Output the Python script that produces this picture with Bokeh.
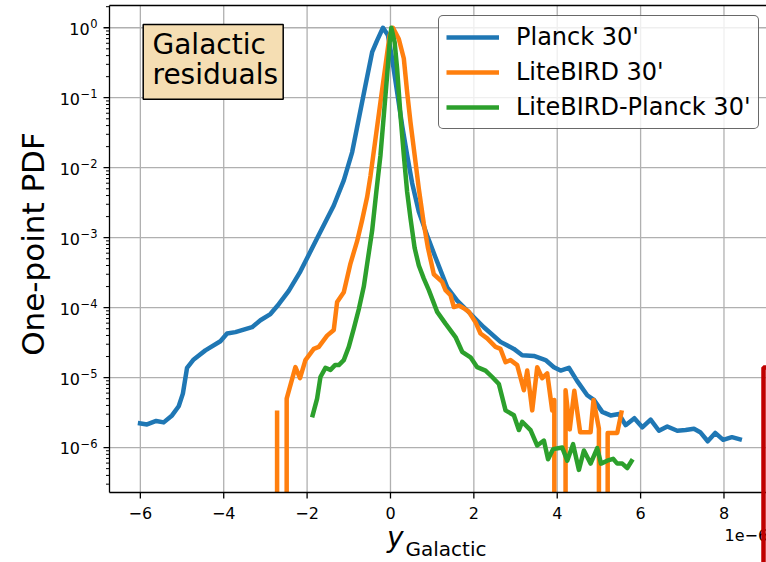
import numpy as np
from bokeh.plotting import figure
from bokeh.models import Range1d, BoxAnnotation, Legend
from bokeh.core.properties import value
from bokeh.embed import file_html
from bokeh.resources import INLINE

# One-point PDF of the Galactic residual y-maps (x values in units of 1e-6)
planck_x = [-6.06, -5.84, -5.62, -5.44, -5.24, -5.08, -4.98, -4.88, -4.72, -4.44,
            -4.08, -3.92, -3.72, -3.32, -3.12, -2.88, -2.68, -2.44, -2.16, -1.76,
            -1.36, -1.12, -0.92, -0.76, -0.60, -0.44, -0.32, -0.18, -0.06, 0.04,
            0.16, 0.28, 0.40, 0.52, 0.68, 0.88, 1.08, 1.36, 1.60, 1.84,
            2.24, 2.64, 2.96, 3.16, 3.44, 3.72, 3.92, 4.08, 4.28, 4.48,
            4.72, 4.88, 5.08, 5.28, 5.48, 5.64, 5.85, 6.04, 6.24, 6.44,
            6.64, 6.88, 7.08, 7.28, 7.43, 7.61, 7.79, 7.98, 8.19, 8.43]
planck_pdf = [2.24e-6, 2.14e-6, 2.40e-6, 2.29e-6, 2.88e-6, 3.89e-6, 5.9e-6, 1.38e-5, 1.82e-5, 2.45e-5,
              3.31e-5, 4.27e-5, 4.47e-5, 5.25e-5, 6.6e-5, 8.1e-5, 1.12e-4, 1.74e-4, 3.3e-4, 9.8e-4,
              2.88e-3, 6.6e-3, 0.0166, 0.050, 0.151, 0.447, 0.66, 1.0, 0.78, 0.363,
              0.120, 0.040, 0.0151, 6.0e-3, 2.34e-3, 1.07e-3, 5.2e-4, 1.95e-4, 1.26e-4, 9.1e-5,
              5.25e-5, 3.24e-5, 2.57e-5, 2.09e-5, 2.04e-5, 1.78e-5, 1.41e-5, 1.26e-5, 1.38e-5, 8.9e-6,
              5.6e-6, 4.8e-6, 3.24e-6, 2.88e-6, 3.02e-6, 2.09e-6, 2.63e-6, 1.95e-6, 2.51e-6, 1.74e-6,
              2.0e-6, 1.74e-6, 1.78e-6, 1.86e-6, 1.66e-6, 1.23e-6, 1.62e-6, 1.29e-6, 1.41e-6, 1.29e-6]

litebird_x = [-2.72, -2.60, -2.49, -2.28, -2.17, -2.04, -1.84, -1.72, -1.52, -1.36,
              -1.28, -1.12, -0.96, -0.80, -0.68, -0.56, -0.48, -0.36, -0.24, -0.12,
              -0.02, 0.06, 0.20, 0.32, 0.40, 0.48, 0.58, 0.68, 0.80, 0.90,
              1.04, 1.24, 1.32, 1.44, 1.52, 1.64, 1.76, 1.88, 2.04, 2.16,
              2.32, 2.52, 2.64, 2.76, 2.88, 3.04, 3.20, 3.28, 3.40, 3.52,
              3.64, 3.76, 3.88, 3.93, 4.06, 4.20, 4.30, 4.41, 4.55, 4.80,
              4.87, 5.00, 5.10, 5.21, 5.44, 5.55]
litebird_pdf = [3.4e-6, 0.0, 5.0e-6, 1.41e-5, 9.8e-6, 1.78e-5, 2.57e-5, 2.75e-5, 3.98e-5, 4.79e-5,
                1.20e-4, 1.66e-4, 4.27e-4, 8.9e-4, 1.78e-3, 3.8e-3, 7.6e-3, 0.0257, 0.087, 0.288,
                0.78, 1.0, 0.69, 0.363, 0.12, 0.0447, 0.0151, 5.0e-3, 1.58e-3, 7.1e-4,
                3.0e-4, 2.34e-4, 1.78e-4, 1.51e-4, 1.02e-4, 1.07e-4, 9.8e-5, 8.7e-5, 6.2e-5, 4.27e-5,
                3.63e-5, 2.75e-5, 2.57e-5, 1.66e-5, 1.78e-5, 1.51e-5, 6.6e-6, 1.26e-5, 3.4e-6, 1.41e-5,
                9.8e-6, 1.15e-5, 3.4e-6, 4.8e-6, 0.0, 6.6e-6, 1.82e-6, 6.5e-6, 1.66e-6, 1.66e-6,
                4.8e-6, 1.86e-6, 0.0, 1.62e-6, 1.62e-6, 3.4e-6]

combined_x = [-1.88, -1.76, -1.68, -1.56, -1.44, -1.33, -1.24, -1.12, -1.00, -0.88,
              -0.76, -0.64, -0.56, -0.44, -0.34, -0.24, -0.16, -0.08, -0.02, 0.02,
              0.10, 0.16, 0.24, 0.32, 0.40, 0.48, 0.58, 0.68, 0.80, 0.92,
              1.12, 1.32, 1.56, 1.72, 1.92, 2.08, 2.28, 2.44, 2.60, 2.76,
              2.96, 3.08, 3.16, 3.36, 3.52, 3.68, 3.78, 3.90, 4.12, 4.24,
              4.38, 4.52, 4.64, 4.80, 4.96, 5.05, 5.20, 5.34, 5.44, 5.56,
              5.68, 5.81]
combined_pdf = [2.7e-6, 5.0e-6, 1.02e-5, 1.38e-5, 1.29e-5, 1.51e-5, 1.51e-5, 1.78e-5, 2.75e-5, 5.0e-5,
                9.5e-5, 2.0e-4, 4.2e-4, 1.26e-3, 4.5e-3, 0.0151, 0.056, 0.209, 0.62, 1.0,
                0.62, 0.257, 0.056, 0.0151, 4.5e-3, 1.9e-3, 7.1e-4, 4.0e-4, 2.6e-4, 1.78e-4,
                8.7e-5, 5.9e-5, 3.8e-5, 2.34e-5, 1.95e-5, 1.41e-5, 1.26e-5, 1.02e-5, 8.1e-6, 3.4e-6,
                2.9e-6, 1.78e-6, 2.34e-6, 1.78e-6, 1.07e-6, 1.26e-6, 6.8e-7, 9.5e-7, 1.0e-6, 6.5e-7,
                1.12e-6, 4.8e-7, 9.1e-7, 5.9e-7, 9.8e-7, 5.9e-7, 6.5e-7, 6.9e-7, 5.9e-7, 5.9e-7,
                5.1e-7, 6.8e-7]

series_labels = ["Planck 30'", "LiteBIRD 30'", "LiteBIRD-Planck 30'"]
series_colors = ["#1f77b4", "#ff7f0e", "#2ca02c"]

x_ticks = [-6, -4, -2, 0, 2, 4, 6, 8]
x_tick_labels = ["\u22126", "\u22124", "\u22122", "0", "2", "4", "6", "8"]
y_ticks = [1e-6, 1e-5, 1e-4, 1e-3, 1e-2, 1e-1, 1.0]
y_tick_exponents = ["\u22126", "\u22125", "\u22124", "\u22123", "\u22122", "\u22121", "0"]

# axis extents of the plotting area
X_LO, X_HI = -6.74, 9.02
Y_LO, Y_HI = 2.28e-7, 2.08

# page and plotting-area geometry in pixels; the whole page is used as the
# drawing surface so that axis decorations can be placed freely around it
W, H = 766, 562
FL, FR, FT, FB = 109, 766, 5, 492

PX_X = (FR - FL) / (X_HI - X_LO)                               # px per x unit
DEC = (np.log10(Y_HI) - np.log10(Y_LO)) / (FB - FT)            # decades per px
CX0, CX1 = X_LO - FL / PX_X, X_HI + (W - FR) / PX_X
LCY1 = np.log10(Y_HI) + FT * DEC
CY0, CY1 = 10 ** (np.log10(Y_LO) - (H - FB) * DEC), 10 ** LCY1

FONT = value("DejaVu Sans")


def fx(px):
    """page x pixel -> data x"""
    return CX0 + px / PX_X


def fy(py):
    """page y pixel -> data y (log axis)"""
    return 10 ** (LCY1 - py * DEC)


def px_y(v):
    return (LCY1 - np.log10(v)) / DEC


def broken_path(xs, ys, floor):
    """Empty bins drop straight down to the axis floor (as on a clipped log plot)."""
    px, py = [], []
    for i, (x, y) in enumerate(zip(xs, ys)):
        if y > 0:
            px.append(x)
            py.append(y)
        else:
            px += [xs[i - 1], np.nan, xs[i + 1]]
            py += [floor, np.nan, floor]
    return px, py


def label(x, y, txt, size, align="left", **kw):
    """text placed by the vertical middle of its line box"""
    p.text(x=x, y=y, text=txt, text_font=FONT, text_font_size=f"{size}px",
           text_align=align, text_baseline="middle", text_color="black", **kw)


p = figure(width=W, height=H, x_range=Range1d(CX0, CX1), y_range=Range1d(CY0, CY1),
           y_axis_type="log", x_axis_location=None, y_axis_location=None,
           output_backend="svg", toolbar_location=None, title=None, min_border=0)
p.outline_line_color = None
p.background_fill_color = "white"
p.border_fill_color = "white"
p.xgrid.grid_line_color = None
p.ygrid.grid_line_color = None

# grid
p.segment(x0=x_ticks, y0=Y_LO, x1=x_ticks, y1=Y_HI, line_color="#b0b0b0", line_width=1.3)
p.segment(x0=X_LO, y0=y_ticks, x1=X_HI, y1=y_ticks, line_color="#b0b0b0", line_width=1.3)

# "Galactic residuals" box
p.quad(left=fx(142.7), right=fx(282.7), top=fy(24), bottom=fy(98.7),
       fill_color="#f5deb3", line_color="black", line_width=1.5)
label([fx(152), fx(152)], [fy(44), fy(73.5)], ["Galactic", "residuals"], 28)

# curves
for xs, ys, lab, col in zip([planck_x, litebird_x, combined_x],
                            [planck_pdf, litebird_pdf, combined_pdf],
                            series_labels, series_colors):
    bx, by = broken_path(xs, ys, Y_LO)
    p.line(bx, by, line_color=col, line_width=4.5, line_join="round",
           line_cap="butt", legend_label=lab)

# spines
p.segment(x0=[X_LO, X_LO, X_LO], y0=[Y_LO, Y_LO, Y_HI], x1=[X_LO, X_HI, X_HI],
          y1=[Y_HI, Y_LO, Y_HI], line_color="black", line_width=1.3)

# ticks
p.segment(x0=x_ticks, y0=Y_LO, x1=x_ticks, y1=fy(FB + 6), line_color="black", line_width=1.3)
p.segment(x0=X_LO, y0=y_ticks, x1=fx(FL - 6), y1=y_ticks, line_color="black", line_width=1.3)
minor = [m * 10.0 ** e for e in range(-7, 1) for m in range(2, 10)]
minor = [v for v in minor if Y_LO <= v <= Y_HI]
p.segment(x0=X_LO, y0=minor, x1=fx(FL - 3.5), y1=minor, line_color="black", line_width=1.0)

# tick labels
label(x_ticks, fy(512.5), x_tick_labels, 16, align="center")
char_w = {"\u2212": 0.838}
SUP = 11.5
sup_left = [97 - sum(char_w.get(c, 0.636) for c in ex) * SUP for ex in y_tick_exponents]
label([fx(s - 0.5) for s in sup_left], [fy(px_y(v) + 0.9) for v in y_ticks],
      ["10"] * len(y_ticks), 16, align="right")
label([fx(s) for s in sup_left], [fy(px_y(v) - 4.2) for v in y_ticks],
      y_tick_exponents, SUP)

# axis titles and offset text
label([fx(32.8)], [fy(243.5)], ["One-point PDF"], 31, align="center", angle=np.pi / 2)
label([fx(386.5)], [fy(537.3)], ["y"], 28, text_font_style="italic")
label([fx(405)], [fy(548.1)], ["Galactic"], 20)
label([fx(724)], [fy(534.5)], ["1e\u22126"], 16)

# neighbouring panel edge
p.add_layout(BoxAnnotation(left=763, right=830, top=367, bottom=620,
                           left_units="canvas", right_units="canvas",
                           top_units="canvas", bottom_units="canvas",
                           fill_color=None, fill_alpha=0.0,
                           line_color="#c00000", line_alpha=1.0, line_width=4.5))

# legend, anchored by its lower-left corner
lg = p.legend[0]
lg.location = (438, H - 129)
lg.padding = 7
lg.spacing = 7
lg.glyph_width = 53
lg.glyph_height = 28
lg.label_height = 28
lg.label_standoff = 17
lg.label_text_font = "DejaVu Sans"
lg.label_text_font_size = "24px"
lg.label_text_color = "black"
lg.background_fill_color = "white"
lg.background_fill_alpha = 0.8
lg.border_line_color = "#444444"
lg.border_line_alpha = 0.8
lg.border_line_width = 1.3
if "border_radius" in Legend.properties():
    lg.border_radius = 5

open("out.html", "w").write(file_html(p, INLINE))
